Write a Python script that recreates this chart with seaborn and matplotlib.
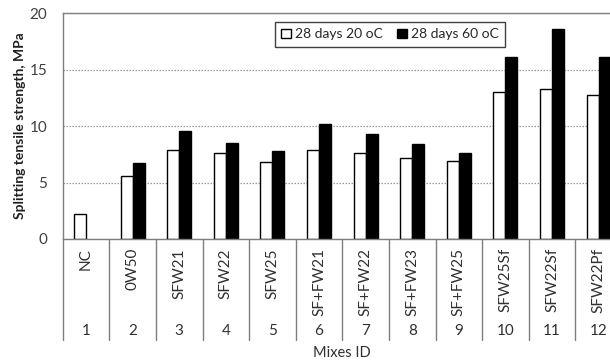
import matplotlib
matplotlib.use("Agg")
import matplotlib.pyplot as plt
import pandas as pd
import seaborn as sns
from matplotlib.transforms import blended_transform_factory

# Mix identifiers, names and splitting tensile strength (MPa)
mix_ids = ["1", "2", "3", "4", "5", "6", "7", "8", "9", "10", "11", "12"]
mix_names = ["NC", "0W50", "SFW21", "SFW22", "SFW25", "SF+FW21", "SF+FW22",
             "SF+FW23", "SF+FW25", "SFW25Sf", "SFW22Sf", "SFW22Pf"]
strength_20c = [2.2, 5.6, 7.9, 7.6, 6.8, 7.9, 7.6, 7.2, 6.9, 13.0, 13.3, 12.8]
strength_60c = [None, 6.7, 9.6, 8.5, 7.8, 10.2, 9.3, 8.4, 7.6, 16.1, 18.6, 16.1]
series_labels = ["28 days 20 oC", "28 days 60 oC"]
y_ticks = [0, 5, 10, 15, 20]

rows = []
for mid, a, b in zip(mix_ids, strength_20c, strength_60c):
    if a is not None:
        rows.append({"mix": mid, "series": series_labels[0], "value": a})
    if b is not None:
        rows.append({"mix": mid, "series": series_labels[1], "value": b})
df = pd.DataFrame(rows)

sns.set_style("white")
plt.rcParams["font.family"] = ["Lato", "DejaVu Sans"]

W, H = 610, 362
fig = plt.figure(figsize=(W / 100, H / 100), dpi=100)
ax_l, ax_r, ax_t, ax_b = 62.7, 622.0, 13.3, 239.0
ax = fig.add_axes([ax_l / W, 1 - ax_b / H, (ax_r - ax_l) / W, (ax_b - ax_t) / H])

sns.barplot(data=df, x="mix", y="value", hue="series", order=mix_ids,
            hue_order=series_labels, palette=["white", "black"], saturation=1,
            edgecolor="black", linewidth=1.0, width=0.515, ax=ax, legend=True)

ax.set_xlim(-0.5, len(mix_ids) - 0.5)
ax.set_ylim(0, 20)
ax.set_yticks(y_ticks)
ax.set_yticklabels([str(t) for t in y_ticks], fontsize=11, color="#404040")
ax.tick_params(axis="y", length=0, pad=11)
ax.set_xticks(range(len(mix_ids)))
ax.set_xticklabels([])
ax.tick_params(axis="x", length=0)
ax.set_xlabel("")
ax.set_ylabel("")

ax.set_axisbelow(True)
ax.yaxis.grid(True, linestyle=(0, (1.2, 1.2)), color="#9a9a9a", linewidth=0.9)
ax.xaxis.grid(False)
for side in ["left", "bottom", "top", "right"]:
    ax.spines[side].set_visible(True)
    ax.spines[side].set_color("#7f7f7f")
    ax.spines[side].set_linewidth(1.0)

# Two-level category axis: names, numbers and separators
trans = blended_transform_factory(ax.transData, ax.transAxes)
for k in range(len(mix_ids) + 1):
    ax.plot([k - 0.5, k - 0.5], [0, -0.447], transform=trans, color="#7f7f7f",
            linewidth=1.0, clip_on=False)
for i, (mid, name) in enumerate(zip(mix_ids, mix_names)):
    ax.text(i, -0.04, name, transform=trans, rotation=90, ha="center", va="top",
            fontsize=11, color="#303030")
    ax.text(i, -0.408, mid, transform=trans, ha="center", va="center",
            fontsize=11, color="#303030")
ax.text(0.5, -0.505, "Mixes ID", transform=ax.transAxes, ha="center",
        va="center", fontsize=10.5, color="#303030")

fig.text(20 / W, 1 - 126 / H, "Splitting tensile strength, MPa", rotation=90,
         ha="center", va="center", fontsize=10, fontweight="bold", color="#202020")

handles, labels = ax.get_legend_handles_labels()
ax.legend(handles, labels, ncol=2, loc="upper left",
          bbox_to_anchor=(275 / W, 1 - 22 / H), bbox_transform=fig.transFigure,
          borderaxespad=0, frameon=True, fancybox=False, edgecolor="#404040",
          fontsize=10, handlelength=0.7, handleheight=0.7, handletextpad=0.3,
          columnspacing=1.0, borderpad=0.45, framealpha=1)
ax.get_legend().get_frame().set_linewidth(1.0)

fig.savefig("out.png", dpi=100)
